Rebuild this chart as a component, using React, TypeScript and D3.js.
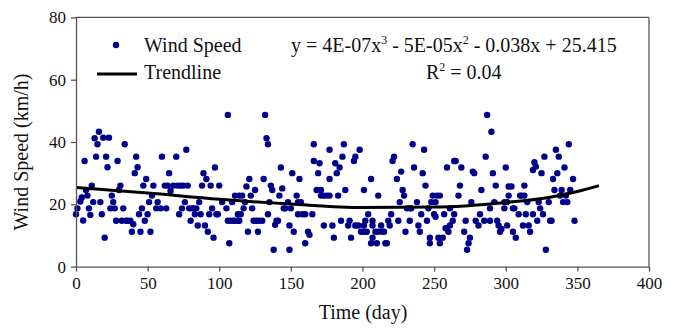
import { useRef, useEffect } from "react";
import * as d3 from "d3";

// daily wind speed readings, [day, km/h]
const windSpeed: [number, number][] = [
  [0, 16.8], [1, 18.7], [3, 20.9], [4, 22.2], [5, 14.8], [6, 33.9], [7, 24.6], [8, 22.8], [9, 18.7], [10, 16.6],
  [11, 26.0], [12, 20.7], [13, 41.2], [16, 43.3], [15, 39.3], [14, 35.3], [17, 20.7], [18, 16.8], [19, 41.4], [23, 41.4],
  [21, 35.3], [22, 31.9], [20, 9.3], [25, 22.8], [26, 20.7], [24, 18.7], [27, 18.7], [28, 14.7], [29, 33.9], [31, 26.0],
  [30, 24.6], [33, 18.7], [34, 39.3], [32, 14.7], [35, 14.7], [36, 14.7], [38, 14.7], [40, 13.6], [39, 11.2], [42, 35.3],
  [43, 31.9], [41, 30.0], [45, 11.2], [44, 16.8], [46, 18.7], [47, 26.0], [49, 28.1], [50, 16.8], [48, 14.7], [51, 20.7],
  [52, 11.2], [53, 22.8], [54, 26.0], [56, 18.7], [57, 20.7], [59, 18.7], [60, 35.3], [62, 26.0], [63, 18.7], [65, 30.0],
  [64, 26.0], [66, 24.3], [68, 26.0], [70, 35.3], [71, 26.0], [73, 26.0], [75, 26.0], [77, 37.5], [78, 26.0], [76, 20.7],
  [74, 18.7], [72, 16.8], [79, 18.7], [80, 14.7], [81, 18.7], [82, 18.7], [83, 16.8], [84, 18.7], [85, 13.2], [86, 20.7],
  [87, 16.8], [88, 26.0], [89, 30.0], [91, 28.1], [90, 13.2], [92, 11.2], [93, 16.8], [95, 18.7], [96, 9.3], [97, 31.8],
  [94, 26.0], [100, 26.0], [98, 16.8],
  [106, 48.7], [132, 48.7], [133, 41.2], [134, 39.3], [102, 20.7], [99, 16.8], [105, 18.7], [107, 7.5], [109, 20.7],
  [106, 14.7], [108, 14.7], [110, 14.7], [111, 14.7], [113, 14.7], [114, 14.7], [111, 22.8], [113, 16.8], [114, 22.8],
  [116, 22.8], [115, 16.8], [117, 18.7], [118, 20.7], [119, 25.7], [121, 28.1], [120, 11.2], [122, 22.8], [123, 18.7],
  [125, 24.6], [124, 14.7], [126, 14.7], [128, 14.7], [127, 11.2], [130, 14.7], [131, 28.1], [134, 16.8], [135, 20.7],
  [136, 26.0], [137, 24.6], [139, 13.4], [140, 14.7], [138, 5.4], [141, 14.7], [142, 22.8], [143, 31.8], [144, 25.1],
  [145, 18.7], [146, 18.7], [148, 20.7], [149, 13.2], [149, 5.4], [150, 18.7], [151, 30.0], [152, 11.2], [154, 22.8],
  [155, 20.7], [156, 28.1], [157, 20.7], [155, 16.8], [158, 16.8], [160, 16.8], [160, 7.5], [162, 11.2], [163, 10.2],
  [165, 16.8], [166, 39.3], [166, 33.9], [169, 30.0], [170, 33.2], [168, 24.6], [171, 24.6], [171, 22.8], [173, 22.8],
  [175, 22.8], [177, 22.8], [173, 13.2], [177, 37.5], [177, 28.1], [179, 13.2], [181, 33.2], [182, 30.0], [183, 22.8],
  [184, 31.8], [186, 35.3], [187, 39.3], [188, 24.6], [185, 14.7], [180, 9.3], [190, 13.2], [191, 14.7], [192, 9.3],
  [194, 33.9], [195, 35.3], [198, 37.5], [195, 13.2], [197, 13.2], [199, 11.2], [201, 24.6], [201, 13.2],
  [206, 28.1], [211, 22.8], [201, 11.2], [203, 11.2], [204, 16.8], [202, 14.7], [207, 14.7], [207, 13.2], [207, 9.3],
  [206, 7.5], [210, 7.5], [209, 11.2], [211, 11.2], [213, 13.2], [214, 11.2], [215, 11.2], [216, 7.5], [217, 7.5],
  [218, 14.7], [219, 13.2], [220, 16.8], [221, 33.9], [222, 35.3], [224, 28.1], [225, 14.7], [226, 20.7], [227, 30.5],
  [228, 24.6], [229, 22.8], [230, 11.2], [231, 18.7], [233, 18.7], [234, 18.7], [233, 14.7], [235, 39.3], [236, 31.8],
  [238, 20.7], [239, 13.2], [240, 11.2], [241, 16.8], [242, 30.0], [243, 37.5], [244, 26.0], [245, 14.7], [246, 18.7],
  [247, 9.3], [247, 7.5], [248, 20.7], [249, 22.8], [250, 16.8], [251, 20.7], [251, 16.0], [252, 22.8], [253, 9.3],
  [254, 7.5], [254, 22.8], [256, 9.3], [257, 16.8], [258, 12.3], [259, 31.8], [260, 11.2], [261, 18.7], [261, 13.2],
  [263, 14.7], [264, 33.9], [265, 33.9], [264, 16.8], [267, 22.8], [268, 26.0], [269, 31.8], [271, 11.2], [272, 14.7],
  [273, 5.4], [274, 7.5], [275, 9.3], [276, 20.7], [277, 30.5], [278, 30.0], [279, 14.7], [281, 13.2], [282, 16.8],
  [283, 24.6], [285, 14.7], [286, 35.3], [287, 48.7], [290, 43.3], [289, 18.7], [289, 14.7], [291, 30.0], [292, 20.7],
  [293, 26.0], [294, 14.7], [295, 13.2], [296, 11.2], [297, 12.1], [299, 18.7], [300, 31.8], [301, 20.7], [302, 25.7],
  [301, 13.2],
  [299, 20.7], [302, 22.8], [304, 25.7], [305, 11.2], [305, 18.7], [306, 18.7], [307, 9.3], [309, 16.8], [310, 22.8],
  [311, 22.8], [312, 13.2], [313, 22.8], [313, 26.0], [314, 16.8], [315, 20.7], [316, 13.2], [317, 11.2], [319, 16.8],
  [319, 31.0], [320, 33.5], [321, 32.1], [322, 14.7], [323, 20.7], [324, 18.7], [325, 30.0], [326, 16.8], [327, 35.3],
  [328, 5.4], [330, 20.7], [331, 14.7], [332, 14.7], [333, 28.1], [334, 24.6], [335, 37.5], [336, 30.0], [337, 35.3],
  [338, 22.8], [339, 24.6], [340, 20.7], [341, 31.8], [342, 22.8], [343, 20.7], [344, 39.3], [345, 24.6], [347, 28.1],
  [348, 14.7],
];

// trendline as drawn in the figure
const trendDays = [0, 50, 100, 150, 200, 250, 300, 330, 350, 365];
const trendValues = [25.4, 23.6, 21.6, 20.1, 19.0, 19.1, 20.6, 22.2, 24.1, 26.0];

const xTicks = [0, 50, 100, 150, 200, 250, 300, 350, 400];
const yTicks = [0, 20, 40, 60, 80];

const width = 675;
const height = 328;
const margin = { left: 76, right: 26, top: 17.4, bottom: 61.4 };
const font = "Liberation Serif, Times New Roman, serif";
const dotColor = "#00008b";
const axisColor = "#555";

const x = d3.scaleLinear().domain([0, 400]).range([margin.left, width - margin.right]);
const y = d3.scaleLinear().domain([0, 80]).range([height - margin.bottom, margin.top]);

const App = () => {
  const xAxisRef = useRef<SVGGElement>(null);
  const yAxisRef = useRef<SVGGElement>(null);

  useEffect(() => {
    const xa = d3.select(xAxisRef.current!);
    xa.call(d3.axisBottom(x).tickValues(xTicks).tickSize(5).tickPadding(5).tickSizeOuter(0));
    const ya = d3.select(yAxisRef.current!);
    ya.call(d3.axisLeft(y).tickValues(yTicks).tickSize(5).tickPadding(5).tickSizeOuter(0));
    [xa, ya].forEach((g) => {
      g.attr("font-family", font).attr("font-size", 17);
      g.selectAll("path, line").attr("stroke", axisColor).attr("stroke-width", 1.3);
      g.selectAll("text").style("font-family", font).style("font-size", "17px").attr("fill", "#111");
    });
  }, []);

  const trend = d3
    .line<number>()
    .x((d, i) => x(trendDays[i]))
    .y((d) => y(d))
    .curve(d3.curveMonotoneX)(trendValues);

  return (
    <svg width={width} height={height} style={{ position: "absolute", left: 0, top: 0, fontFamily: font }}>
      <rect width={width} height={height} fill="#fff" />
      {/* frame */}
      <line x1={x(0)} x2={x(400)} y1={y(80)} y2={y(80)} stroke={axisColor} strokeWidth={1.3} />
      <line x1={x(400)} x2={x(400)} y1={y(80)} y2={y(0)} stroke={axisColor} strokeWidth={1.3} />

      <g>
        {windSpeed.map(([d, v], i) => (
          <circle key={i} cx={x(d)} cy={y(v)} r={3.2} fill={dotColor} />
        ))}
      </g>
      <path d={trend ?? ""} fill="none" stroke="#000" strokeWidth={3} />

      <g ref={xAxisRef} transform={`translate(0,${y(0)})`} />
      <g ref={yAxisRef} transform={`translate(${x(0)},0)`} />

      {/* legend */}
      <circle cx={116} cy={45} r={3.2} fill={dotColor} />
      <text x={144} y={52} fontSize={20} fill="#111">Wind Speed</text>
      <line x1={97} x2={137} y1={74} y2={74} stroke="#000" strokeWidth={3} />
      <text x={144} y={79} fontSize={20} fill="#111">Trendline</text>

      <text x={291} y={52} fontSize={20} fill="#111">
        y = 4E-07x<tspan dy={-8} fontSize={12}>3</tspan>
        <tspan dy={8}> - 5E-05x</tspan>
        <tspan dy={-8} fontSize={12}>2</tspan>
        <tspan dy={8}> - 0.038x + 25.415</tspan>
      </text>
      <text x={426} y={79} fontSize={20} fill="#111">
        R<tspan dy={-8} fontSize={12}>2</tspan>
        <tspan dy={8}> = 0.04</tspan>
      </text>

      {/* axis titles */}
      <text x={363} y={319} textAnchor="middle" fontSize={20} fill="#111">
        Time (day)
      </text>
      <text
        transform={`translate(28,${(y(0) + y(80)) / 2 + 10}) rotate(-90)`}
        textAnchor="middle"
        fontSize={20}
        fill="#111"
      >
        Wind Speed (km/h)
      </text>
    </svg>
  );
};

export default App;
